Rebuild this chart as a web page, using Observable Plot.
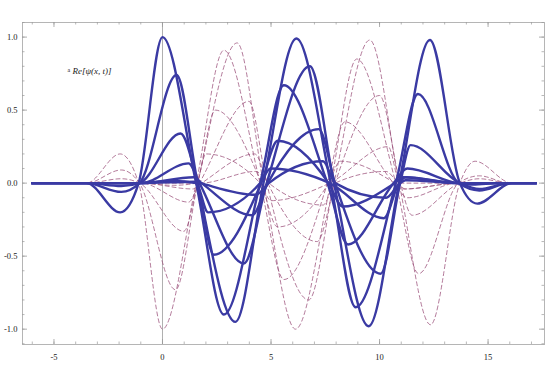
<!DOCTYPE html>
<html>
<head>
<meta charset="utf-8">
<script src="https://cdn.jsdelivr.net/npm/d3@7"></script>
<script src="https://cdn.jsdelivr.net/npm/@observablehq/plot@0.6"></script>
<style>
  html, body { margin: 0; padding: 0; background: #fff; }
  #chart svg { display: block; }
</style>
</head>
<body>
<div id="chart"></div>
<script>
// ---- tick values ----
const xMajorTicks = [-5, 0, 5, 10, 15];
const xMinorTicks = [-6,-5,-4,-3,-2,-1,0,1,2,3,4,5,6,7,8,9,10,11,12,13,14,15,16,17];
const yMajorTicks = [-1, -0.5, 0, 0.5, 1];
const yMinorTicks = [-1.1,-1,-0.9,-0.8,-0.7,-0.6,-0.5,-0.4,-0.3,-0.2,-0.1,0,0.1,0.2,0.3,0.4,0.5,0.6,0.7,0.8,0.9,1,1.1];
const legendLabel = "Re[ψ(x, t)]";

// ---- solid curves: Re[psi(x,t)] (x, y) ----
const reA = [[-6,0],[-3.5,0],[-1.95,-0.20],[-1.1,0],[0,1.0],[1.55,0],[2.83,-0.90],[4.5,0],[5.59,0.67],[7.6,0],[8.55,-0.42],[10.65,0],[11.28,0.10],[13.6,0],[14.3,-0.01],[15.5,0],[17.2,0]];
const reB = [[-6,0],[-3.5,0],[-1.9,-0.06],[-1.06,0],[0.65,0.74],[1.62,0],[3.36,-0.95],[4.65,0],[6.17,0.99],[7.75,0],[8.9,-0.85],[10.75,0],[11.77,0.61],[13.64,0],[14.6,-0.05],[16,0],[17.2,0]];
const reC = [[-6,0],[-3.5,0],[-1.9,-0.02],[-1.06,0],[0.83,0.34],[1.62,0],[2.36,-0.49],[4.55,0],[5.31,0.29],[7.65,0],[8.3,-0.16],[10.7,0],[11.1,0.04],[13.6,0],[17.2,0]];
const reD = [[-6,0],[-3.5,0],[-1.0,0],[1.2,0.135],[1.7,0],[3.75,-0.55],[4.8,0],[6.79,0.80],[7.9,0],[9.5,-0.98],[10.9,0],[12.32,0.98],[13.7,0],[14.5,-0.14],[16.1,0],[17.2,0]];
const reE = [[-6,0],[-1.0,0],[1.44,0.04],[1.8,0],[4.13,-0.22],[4.85,0],[7.2,0.37],[7.95,0],[10.05,-0.62],[10.95,0],[11.43,0.26],[13.7,0],[14.6,-0.04],[16,0],[17.2,0]];
const reF = [[-6,0],[-1.06,0],[0.5,0.015],[1.55,0],[2.1,-0.20],[4.5,0],[4.98,0.10],[7.7,0],[10.2,-0.24],[10.9,0],[11.2,0.04],[13.65,0],[17.2,0]];
const reG = [[-6,0],[-1.0,0],[1.5,0.01],[1.75,0],[4.3,-0.08],[4.9,0],[7.4,0.15],[7.95,0],[10.3,-0.10],[10.95,0],[11.2,0.02],[13.7,0],[17.2,0]];

// ---- dashed curves (x, y) ----
const imA = [[-6,0],[-3.5,0],[-1.95,0.20],[-1.1,0],[0.0,-1.0],[1.55,0],[2.83,0.91],[4.5,0],[5.6,-0.66],[7.6,0],[8.4,0.42],[10.65,0],[11.3,-0.10],[13.6,0],[17.2,0]];
const imB = [[-6,0],[-3.5,0],[-1.9,0.09],[-1.06,0],[0.6,-0.73],[1.62,0],[3.44,0.96],[4.65,0],[6.13,-1.0],[7.75,0],[8.95,0.85],[10.75,0],[11.8,-0.62],[13.64,0],[14.6,0.05],[16,0],[17.2,0]];
const imC = [[-6,0],[-3.5,0],[-1.9,0.03],[-1.06,0],[0.98,-0.33],[1.62,0],[2.44,0.50],[4.55,0],[5.3,-0.30],[7.65,0],[8.2,0.15],[10.7,0],[11.1,-0.04],[13.6,0],[17.2,0]];
const imD = [[-6,0],[-1.0,0],[1.2,-0.13],[1.7,0],[3.98,0.56],[4.8,0],[6.74,-0.80],[7.9,0],[9.55,0.98],[10.9,0],[12.35,-0.97],[13.7,0],[14.4,0.15],[16.1,0],[17.2,0]];
const imE = [[-6,0],[-1.0,0],[1.4,-0.04],[1.8,0],[4.25,0.20],[4.85,0],[7.13,-0.40],[7.95,0],[10.0,0.60],[10.95,0],[11.5,-0.22],[13.7,0],[14.6,0.03],[16,0],[17.2,0]];
const imF = [[-6,0],[-1.06,0],[0.5,-0.015],[1.55,0],[2.0,0.20],[4.5,0],[5.0,-0.12],[7.7,0],[10.4,0.25],[10.9,0],[11.2,-0.04],[13.65,0],[17.2,0]];
const imG = [[-6,0],[-1.0,0],[1.75,0],[4.3,0.08],[4.9,0],[7.4,-0.15],[7.95,0],[10.3,0.08],[10.95,0],[13.7,0],[17.2,0]];

const solidSeries = {A: reA, B: reB, C: reC, D: reD, E: reE, F: reF, G: reG};
const dashedSeries = {A: imA, B: imB, C: imC, D: imD, E: imE, F: imF, G: imG};

const toRows = (obj) => Object.entries(obj).flatMap(([k, pts]) => pts.map(([x, y]) => ({k, x, y})));
const solidRows = toRows(solidSeries);
const dashedRows = toRows(dashedSeries);

const W = 545, H = 381;
const mL = 22, mR = 1, mT = 22, mB = 37;
const innerH = H - mT - mB, innerW = W - mL - mR;
const tickGray = "#9a9a9a";
const fontFam = "'Liberation Serif', 'DejaVu Serif', serif";

const chart = Plot.plot({
  width: W,
  height: H,
  marginLeft: mL, marginRight: mR, marginTop: mT, marginBottom: mB,
  style: {fontFamily: fontFam, fontSize: "8.5px", color: "#222", background: "#fff"},
  x: {domain: [-6.45, 17.6], ticks: xMajorTicks, tickSize: 0, tickPadding: 9, tickFormat: d => String(d), label: null},
  y: {domain: [-1.105, 1.1], ticks: yMajorTicks, tickSize: 0, tickPadding: 5, tickFormat: d => d.toFixed(1), label: null},
  marks: [
    Plot.frame({stroke: "#b5b5b5", strokeWidth: 1}),
    Plot.ruleX([0], {stroke: "#b0b0b0", strokeWidth: 1}),
    // inward frame ticks: bottom & top
    Plot.tickX(xMinorTicks, {x: d => d, insetTop: innerH - 2.5, stroke: tickGray, strokeWidth: 0.7}),
    Plot.tickX(xMinorTicks, {x: d => d, insetBottom: innerH - 2.5, stroke: tickGray, strokeWidth: 0.7}),
    Plot.tickX(xMajorTicks, {x: d => d, insetTop: innerH - 5, stroke: tickGray, strokeWidth: 0.8}),
    Plot.tickX(xMajorTicks, {x: d => d, insetBottom: innerH - 5, stroke: tickGray, strokeWidth: 0.8}),
    // inward frame ticks: left & right
    Plot.tickY(yMinorTicks, {y: d => d, insetRight: innerW - 2.5, stroke: tickGray, strokeWidth: 0.7}),
    Plot.tickY(yMinorTicks, {y: d => d, insetLeft: innerW - 2.5, stroke: tickGray, strokeWidth: 0.7}),
    Plot.tickY(yMajorTicks, {y: d => d, insetRight: innerW - 5, stroke: tickGray, strokeWidth: 0.8}),
    Plot.tickY(yMajorTicks, {y: d => d, insetLeft: innerW - 5, stroke: tickGray, strokeWidth: 0.8}),
    // dashed curves
    Plot.line(dashedRows, {x: "x", y: "y", z: "k", curve: "monotone-x", stroke: "#9a4d78", strokeOpacity: 0.75, strokeWidth: 1, strokeDasharray: "4,3"}),
    // solid curves
    Plot.line(solidRows, {x: "x", y: "y", z: "k", curve: "monotone-x", stroke: "#3a3aa3", strokeWidth: 2.4, strokeLinejoin: "round"}),
    // legend-like label
    Plot.text(["a"], {frameAnchor: "top-left", dx: 45, dy: 45, textAnchor: "start", fontSize: 6, fill: "#222", fontFamily: fontFam}),
    Plot.text([legendLabel], {frameAnchor: "top-left", dx: 50, dy: 45, textAnchor: "start", fontSize: 9, fontStyle: "italic", fill: "#222", fontFamily: fontFam})
  ]
});
document.getElementById("chart").appendChild(chart);
</script>
</body>
</html>
